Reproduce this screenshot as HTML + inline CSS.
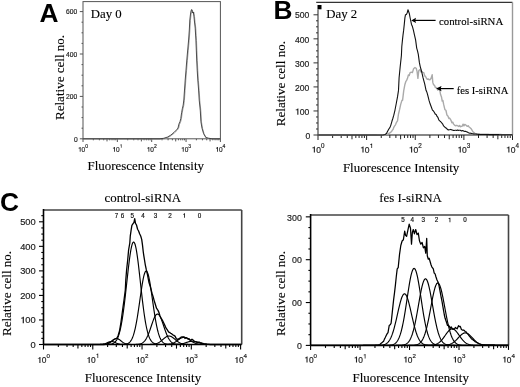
<!DOCTYPE html>
<html><head><meta charset="utf-8"><style>
html,body{margin:0;padding:0;background:#fff;}
body{width:520px;height:387px;overflow:hidden;}
svg{display:block;will-change:transform;}
</style></head><body>
<svg width="520" height="387" viewBox="0 0 520 387">
<rect width="520" height="387" fill="#fff"/>
<rect x="83.0" y="1.6" width="137.4" height="137.20000000000002" fill="none" stroke="#555" stroke-width="1"/>
<line x1="79.80" y1="138.80" x2="83.00" y2="138.80" stroke="#555" stroke-width="1"/>
<text x="73.97" y="141.50" font-family="Liberation Sans" font-size="6.7" fill="#222" stroke="#222" stroke-width="0.18">0</text>
<line x1="79.80" y1="96.40" x2="83.00" y2="96.40" stroke="#555" stroke-width="1"/>
<text x="66.02" y="99.10" font-family="Liberation Sans" font-size="6.7" fill="#222" stroke="#222" stroke-width="0.18">200</text>
<line x1="79.80" y1="54.00" x2="83.00" y2="54.00" stroke="#555" stroke-width="1"/>
<text x="66.02" y="56.70" font-family="Liberation Sans" font-size="6.7" fill="#222" stroke="#222" stroke-width="0.18">400</text>
<line x1="79.80" y1="11.60" x2="83.00" y2="11.60" stroke="#555" stroke-width="1"/>
<text x="66.02" y="14.30" font-family="Liberation Sans" font-size="6.7" fill="#222" stroke="#222" stroke-width="0.18">600</text>
<line x1="81.50" y1="128.20" x2="83.00" y2="128.20" stroke="#555" stroke-width="1"/>
<line x1="81.50" y1="117.60" x2="83.00" y2="117.60" stroke="#555" stroke-width="1"/>
<line x1="81.50" y1="107.00" x2="83.00" y2="107.00" stroke="#555" stroke-width="1"/>
<line x1="81.50" y1="85.80" x2="83.00" y2="85.80" stroke="#555" stroke-width="1"/>
<line x1="81.50" y1="75.20" x2="83.00" y2="75.20" stroke="#555" stroke-width="1"/>
<line x1="81.50" y1="64.60" x2="83.00" y2="64.60" stroke="#555" stroke-width="1"/>
<line x1="81.50" y1="43.40" x2="83.00" y2="43.40" stroke="#555" stroke-width="1"/>
<line x1="81.50" y1="32.80" x2="83.00" y2="32.80" stroke="#555" stroke-width="1"/>
<line x1="81.50" y1="22.20" x2="83.00" y2="22.20" stroke="#555" stroke-width="1"/>
<line x1="83.00" y1="138.80" x2="83.00" y2="142.00" stroke="#555" stroke-width="1"/>
<line x1="93.34" y1="138.80" x2="93.34" y2="140.30" stroke="#555" stroke-width="1"/>
<line x1="99.39" y1="138.80" x2="99.39" y2="140.30" stroke="#555" stroke-width="1"/>
<line x1="103.68" y1="138.80" x2="103.68" y2="140.30" stroke="#555" stroke-width="1"/>
<line x1="107.01" y1="138.80" x2="107.01" y2="141.41" stroke="#555" stroke-width="1"/>
<line x1="109.73" y1="138.80" x2="109.73" y2="140.30" stroke="#555" stroke-width="1"/>
<line x1="112.03" y1="138.80" x2="112.03" y2="140.30" stroke="#555" stroke-width="1"/>
<line x1="114.02" y1="138.80" x2="114.02" y2="140.30" stroke="#555" stroke-width="1"/>
<line x1="115.78" y1="138.80" x2="115.78" y2="140.30" stroke="#555" stroke-width="1"/>
<path d="M79.75,151.70 L80.60,151.70 L80.60,147.05 L79.95,147.05 C79.82,147.61 79.43,147.80 78.58,147.87 L78.58,148.39 L79.75,148.39 Z" fill="#222"/>
<text x="81.61" y="151.70" font-family="Liberation Sans" font-size="6.5" fill="#222" stroke="#222" stroke-width="0.18">0</text>
<text x="85.22" y="147.80" font-family="Liberation Sans" font-size="5" fill="#222" stroke="#222" stroke-width="0.18">0</text>
<line x1="117.35" y1="138.80" x2="117.35" y2="142.00" stroke="#555" stroke-width="1"/>
<line x1="127.69" y1="138.80" x2="127.69" y2="140.30" stroke="#555" stroke-width="1"/>
<line x1="133.74" y1="138.80" x2="133.74" y2="140.30" stroke="#555" stroke-width="1"/>
<line x1="138.03" y1="138.80" x2="138.03" y2="140.30" stroke="#555" stroke-width="1"/>
<line x1="141.36" y1="138.80" x2="141.36" y2="141.41" stroke="#555" stroke-width="1"/>
<line x1="144.08" y1="138.80" x2="144.08" y2="140.30" stroke="#555" stroke-width="1"/>
<line x1="146.38" y1="138.80" x2="146.38" y2="140.30" stroke="#555" stroke-width="1"/>
<line x1="148.37" y1="138.80" x2="148.37" y2="140.30" stroke="#555" stroke-width="1"/>
<line x1="150.13" y1="138.80" x2="150.13" y2="140.30" stroke="#555" stroke-width="1"/>
<path d="M114.10,151.70 L114.95,151.70 L114.95,147.05 L114.30,147.05 C114.17,147.61 113.78,147.80 112.93,147.87 L112.93,148.39 L114.10,148.39 Z" fill="#222"/>
<text x="115.96" y="151.70" font-family="Liberation Sans" font-size="6.5" fill="#222" stroke="#222" stroke-width="0.18">0</text>
<path d="M120.92,147.80 L121.57,147.80 L121.57,144.22 L121.07,144.22 C120.97,144.65 120.67,144.80 120.02,144.85 L120.02,145.25 L120.92,145.25 Z" fill="#222"/>
<line x1="151.70" y1="138.80" x2="151.70" y2="142.00" stroke="#555" stroke-width="1"/>
<line x1="162.04" y1="138.80" x2="162.04" y2="140.30" stroke="#555" stroke-width="1"/>
<line x1="168.09" y1="138.80" x2="168.09" y2="140.30" stroke="#555" stroke-width="1"/>
<line x1="172.38" y1="138.80" x2="172.38" y2="140.30" stroke="#555" stroke-width="1"/>
<line x1="175.71" y1="138.80" x2="175.71" y2="141.41" stroke="#555" stroke-width="1"/>
<line x1="178.43" y1="138.80" x2="178.43" y2="140.30" stroke="#555" stroke-width="1"/>
<line x1="180.73" y1="138.80" x2="180.73" y2="140.30" stroke="#555" stroke-width="1"/>
<line x1="182.72" y1="138.80" x2="182.72" y2="140.30" stroke="#555" stroke-width="1"/>
<line x1="184.48" y1="138.80" x2="184.48" y2="140.30" stroke="#555" stroke-width="1"/>
<path d="M148.45,151.70 L149.30,151.70 L149.30,147.05 L148.65,147.05 C148.52,147.61 148.13,147.80 147.28,147.87 L147.28,148.39 L148.45,148.39 Z" fill="#222"/>
<text x="150.31" y="151.70" font-family="Liberation Sans" font-size="6.5" fill="#222" stroke="#222" stroke-width="0.18">0</text>
<text x="153.92" y="147.80" font-family="Liberation Sans" font-size="5" fill="#222" stroke="#222" stroke-width="0.18">2</text>
<line x1="186.05" y1="138.80" x2="186.05" y2="142.00" stroke="#555" stroke-width="1"/>
<line x1="196.39" y1="138.80" x2="196.39" y2="140.30" stroke="#555" stroke-width="1"/>
<line x1="202.44" y1="138.80" x2="202.44" y2="140.30" stroke="#555" stroke-width="1"/>
<line x1="206.73" y1="138.80" x2="206.73" y2="140.30" stroke="#555" stroke-width="1"/>
<line x1="210.06" y1="138.80" x2="210.06" y2="141.41" stroke="#555" stroke-width="1"/>
<line x1="212.78" y1="138.80" x2="212.78" y2="140.30" stroke="#555" stroke-width="1"/>
<line x1="215.08" y1="138.80" x2="215.08" y2="140.30" stroke="#555" stroke-width="1"/>
<line x1="217.07" y1="138.80" x2="217.07" y2="140.30" stroke="#555" stroke-width="1"/>
<line x1="218.83" y1="138.80" x2="218.83" y2="140.30" stroke="#555" stroke-width="1"/>
<path d="M182.80,151.70 L183.65,151.70 L183.65,147.05 L183.00,147.05 C182.87,147.61 182.48,147.80 181.63,147.87 L181.63,148.39 L182.80,148.39 Z" fill="#222"/>
<text x="184.66" y="151.70" font-family="Liberation Sans" font-size="6.5" fill="#222" stroke="#222" stroke-width="0.18">0</text>
<text x="188.27" y="147.80" font-family="Liberation Sans" font-size="5" fill="#222" stroke="#222" stroke-width="0.18">3</text>
<line x1="220.40" y1="138.80" x2="220.40" y2="142.00" stroke="#555" stroke-width="1"/>
<path d="M217.15,151.70 L218.00,151.70 L218.00,147.05 L217.35,147.05 C217.22,147.61 216.83,147.80 215.98,147.87 L215.98,148.39 L217.15,148.39 Z" fill="#222"/>
<text x="219.01" y="151.70" font-family="Liberation Sans" font-size="6.5" fill="#222" stroke="#222" stroke-width="0.18">0</text>
<text x="222.62" y="147.80" font-family="Liberation Sans" font-size="5" fill="#222" stroke="#222" stroke-width="0.18">4</text>
<text transform="translate(90.80,17.50) scale(1,1.0)" font-family="Liberation Serif" font-size="12.8" text-anchor="start" stroke="#000" stroke-width="0.12" >Day 0</text>
<text transform="translate(87.60,169.50) scale(1,1.0)" font-family="Liberation Serif" font-size="12.9" text-anchor="start" stroke="#000" stroke-width="0.12" >Fluorescence Intensity</text>
<text transform="translate(64,120) rotate(-90) scale(1,1.0)" font-family="Liberation Serif" font-size="13.05" stroke="#000" stroke-width="0.12">Relative cell no.</text>
<text x="39.6" y="21.8" font-family="Liberation Sans" font-weight="bold" font-size="26.3">A</text>
<polyline points="83.00,138.80 160.60,139.20 164.20,138.70 168.00,137.50 171.40,135.50 174.70,132.70 177.10,130.30 178.60,128.40 179.50,124.50 180.70,121.70 181.40,118.80 182.20,113.10 182.90,109.20 183.80,105.40 184.40,100.40 185.10,90.40 185.80,80.40 186.60,70.40 187.40,60.40 188.30,50.40 189.20,40.40 189.90,30.40 190.40,20.40 191.10,14.40 191.60,11.40 192.20,9.90 192.80,11.40 193.30,13.40 193.90,12.40 194.50,16.40 195.10,22.40 195.80,28.40 196.20,35.40 196.50,40.40 196.90,50.40 197.30,60.40 197.80,70.40 198.40,80.40 199.20,90.40 199.80,100.40 200.90,111.30 201.50,122.10 202.60,128.60 204.20,134.10 206.40,137.90 209.10,138.60 212.60,139.20 220.40,138.80" fill="none" stroke="#999" stroke-width="0.9" stroke-linejoin="round"/>
<polyline points="83.00,138.80 160.00,138.80 163.60,138.30 167.40,137.10 170.80,135.10 174.10,132.30 176.50,129.90 178.00,128.00 178.90,124.10 180.10,121.30 180.80,118.40 181.60,112.70 182.30,108.80 183.20,105.00 183.80,100.00 184.50,90.00 185.20,80.00 186.00,70.00 186.80,60.00 187.70,50.00 188.60,40.00 189.30,30.00 189.80,20.00 190.50,14.00 191.00,11.00 191.60,9.50 192.20,11.00 192.70,13.00 193.30,12.00 193.90,16.00 194.50,22.00 195.20,28.00 195.60,35.00 195.90,40.00 196.30,50.00 196.70,60.00 197.20,70.00 197.80,80.00 198.60,90.00 199.20,100.00 200.30,110.90 200.90,121.70 202.00,128.20 203.60,133.70 205.80,137.50 208.50,138.20 212.00,138.80 220.40,138.80" fill="none" stroke="#333" stroke-width="0.85" stroke-linejoin="round"/>
<line x1="316.20" y1="2.30" x2="512.50" y2="2.30" stroke="#333" stroke-width="1.2"/>
<line x1="512.50" y1="2.30" x2="512.50" y2="135.00" stroke="#999" stroke-width="1.4"/>
<line x1="318.00" y1="9.50" x2="318.00" y2="135.00" stroke="#555" stroke-width="1.3"/>
<line x1="318.00" y1="135.00" x2="512.50" y2="135.00" stroke="#111" stroke-width="1.2"/>
<line x1="313.50" y1="135.00" x2="318.00" y2="135.00" stroke="#333" stroke-width="1"/>
<text x="305.62" y="138.68" font-family="Liberation Sans" font-size="8.6" fill="#222" stroke="#222" stroke-width="0.18">0</text>
<line x1="313.50" y1="110.96" x2="318.00" y2="110.96" stroke="#333" stroke-width="1"/>
<path d="M297.28,114.64 L298.40,114.64 L298.40,108.48 L297.54,108.48 C297.36,109.22 296.85,109.48 295.73,109.56 L295.73,110.25 L297.28,110.25 Z" fill="#222"/>
<text x="299.74" y="114.64" font-family="Liberation Sans" font-size="8.6" fill="#222" stroke="#222" stroke-width="0.18">00</text>
<line x1="313.50" y1="86.92" x2="318.00" y2="86.92" stroke="#333" stroke-width="1"/>
<text x="294.96" y="90.60" font-family="Liberation Sans" font-size="8.6" fill="#222" stroke="#222" stroke-width="0.18">200</text>
<line x1="313.50" y1="62.88" x2="318.00" y2="62.88" stroke="#333" stroke-width="1"/>
<text x="294.96" y="66.56" font-family="Liberation Sans" font-size="8.6" fill="#222" stroke="#222" stroke-width="0.18">300</text>
<line x1="313.50" y1="38.84" x2="318.00" y2="38.84" stroke="#333" stroke-width="1"/>
<text x="294.96" y="42.52" font-family="Liberation Sans" font-size="8.6" fill="#222" stroke="#222" stroke-width="0.18">400</text>
<line x1="313.50" y1="14.80" x2="318.00" y2="14.80" stroke="#333" stroke-width="1"/>
<text x="294.96" y="18.48" font-family="Liberation Sans" font-size="8.6" fill="#222" stroke="#222" stroke-width="0.18">500</text>
<line x1="316.00" y1="128.99" x2="318.00" y2="128.99" stroke="#333" stroke-width="1"/>
<line x1="316.00" y1="122.98" x2="318.00" y2="122.98" stroke="#333" stroke-width="1"/>
<line x1="316.00" y1="116.97" x2="318.00" y2="116.97" stroke="#333" stroke-width="1"/>
<line x1="316.00" y1="104.95" x2="318.00" y2="104.95" stroke="#333" stroke-width="1"/>
<line x1="316.00" y1="98.94" x2="318.00" y2="98.94" stroke="#333" stroke-width="1"/>
<line x1="316.00" y1="92.93" x2="318.00" y2="92.93" stroke="#333" stroke-width="1"/>
<line x1="316.00" y1="80.91" x2="318.00" y2="80.91" stroke="#333" stroke-width="1"/>
<line x1="316.00" y1="74.90" x2="318.00" y2="74.90" stroke="#333" stroke-width="1"/>
<line x1="316.00" y1="68.89" x2="318.00" y2="68.89" stroke="#333" stroke-width="1"/>
<line x1="316.00" y1="56.87" x2="318.00" y2="56.87" stroke="#333" stroke-width="1"/>
<line x1="316.00" y1="50.86" x2="318.00" y2="50.86" stroke="#333" stroke-width="1"/>
<line x1="316.00" y1="44.85" x2="318.00" y2="44.85" stroke="#333" stroke-width="1"/>
<line x1="316.00" y1="32.83" x2="318.00" y2="32.83" stroke="#333" stroke-width="1"/>
<line x1="316.00" y1="26.82" x2="318.00" y2="26.82" stroke="#333" stroke-width="1"/>
<line x1="316.00" y1="20.81" x2="318.00" y2="20.81" stroke="#333" stroke-width="1"/>
<line x1="318.00" y1="135.00" x2="318.00" y2="140.00" stroke="#222" stroke-width="1"/>
<line x1="332.64" y1="135.00" x2="332.64" y2="138.00" stroke="#222" stroke-width="1"/>
<line x1="341.20" y1="135.00" x2="341.20" y2="138.00" stroke="#222" stroke-width="1"/>
<line x1="347.28" y1="135.00" x2="347.28" y2="138.00" stroke="#222" stroke-width="1"/>
<line x1="351.99" y1="135.00" x2="351.99" y2="139.30" stroke="#222" stroke-width="1"/>
<line x1="355.84" y1="135.00" x2="355.84" y2="138.00" stroke="#222" stroke-width="1"/>
<line x1="359.09" y1="135.00" x2="359.09" y2="138.00" stroke="#222" stroke-width="1"/>
<line x1="361.91" y1="135.00" x2="361.91" y2="138.00" stroke="#222" stroke-width="1"/>
<line x1="364.40" y1="135.00" x2="364.40" y2="138.00" stroke="#222" stroke-width="1"/>
<path d="M313.82,152.60 L314.92,152.60 L314.92,146.51 L314.07,146.51 C313.90,147.25 313.39,147.50 312.29,147.59 L312.29,148.26 L313.82,148.26 Z" fill="#222"/>
<text x="316.25" y="152.60" font-family="Liberation Sans" font-size="8.5" fill="#222" stroke="#222" stroke-width="0.18">0</text>
<text x="320.97" y="148.10" font-family="Liberation Sans" font-size="6.3" fill="#222" stroke="#222" stroke-width="0.18">0</text>
<line x1="366.62" y1="135.00" x2="366.62" y2="140.00" stroke="#222" stroke-width="1"/>
<line x1="381.26" y1="135.00" x2="381.26" y2="138.00" stroke="#222" stroke-width="1"/>
<line x1="389.83" y1="135.00" x2="389.83" y2="138.00" stroke="#222" stroke-width="1"/>
<line x1="395.90" y1="135.00" x2="395.90" y2="138.00" stroke="#222" stroke-width="1"/>
<line x1="400.61" y1="135.00" x2="400.61" y2="139.30" stroke="#222" stroke-width="1"/>
<line x1="404.46" y1="135.00" x2="404.46" y2="138.00" stroke="#222" stroke-width="1"/>
<line x1="407.72" y1="135.00" x2="407.72" y2="138.00" stroke="#222" stroke-width="1"/>
<line x1="410.54" y1="135.00" x2="410.54" y2="138.00" stroke="#222" stroke-width="1"/>
<line x1="413.03" y1="135.00" x2="413.03" y2="138.00" stroke="#222" stroke-width="1"/>
<path d="M362.44,152.60 L363.55,152.60 L363.55,146.51 L362.70,146.51 C362.53,147.25 362.02,147.50 360.91,147.59 L360.91,148.26 L362.44,148.26 Z" fill="#222"/>
<text x="364.87" y="152.60" font-family="Liberation Sans" font-size="8.5" fill="#222" stroke="#222" stroke-width="0.18">0</text>
<path d="M371.30,148.10 L372.12,148.10 L372.12,143.59 L371.49,143.59 C371.36,144.13 370.99,144.32 370.17,144.38 L370.17,144.89 L371.30,144.89 Z" fill="#222"/>
<line x1="415.25" y1="135.00" x2="415.25" y2="140.00" stroke="#222" stroke-width="1"/>
<line x1="429.89" y1="135.00" x2="429.89" y2="138.00" stroke="#222" stroke-width="1"/>
<line x1="438.45" y1="135.00" x2="438.45" y2="138.00" stroke="#222" stroke-width="1"/>
<line x1="444.53" y1="135.00" x2="444.53" y2="138.00" stroke="#222" stroke-width="1"/>
<line x1="449.24" y1="135.00" x2="449.24" y2="139.30" stroke="#222" stroke-width="1"/>
<line x1="453.09" y1="135.00" x2="453.09" y2="138.00" stroke="#222" stroke-width="1"/>
<line x1="456.34" y1="135.00" x2="456.34" y2="138.00" stroke="#222" stroke-width="1"/>
<line x1="459.16" y1="135.00" x2="459.16" y2="138.00" stroke="#222" stroke-width="1"/>
<line x1="461.65" y1="135.00" x2="461.65" y2="138.00" stroke="#222" stroke-width="1"/>
<path d="M411.07,152.60 L412.17,152.60 L412.17,146.51 L411.32,146.51 C411.15,147.25 410.64,147.50 409.54,147.59 L409.54,148.26 L411.07,148.26 Z" fill="#222"/>
<text x="413.50" y="152.60" font-family="Liberation Sans" font-size="8.5" fill="#222" stroke="#222" stroke-width="0.18">0</text>
<text x="418.22" y="148.10" font-family="Liberation Sans" font-size="6.3" fill="#222" stroke="#222" stroke-width="0.18">2</text>
<line x1="463.88" y1="135.00" x2="463.88" y2="140.00" stroke="#222" stroke-width="1"/>
<line x1="478.51" y1="135.00" x2="478.51" y2="138.00" stroke="#222" stroke-width="1"/>
<line x1="487.08" y1="135.00" x2="487.08" y2="138.00" stroke="#222" stroke-width="1"/>
<line x1="493.15" y1="135.00" x2="493.15" y2="138.00" stroke="#222" stroke-width="1"/>
<line x1="497.86" y1="135.00" x2="497.86" y2="139.30" stroke="#222" stroke-width="1"/>
<line x1="501.71" y1="135.00" x2="501.71" y2="138.00" stroke="#222" stroke-width="1"/>
<line x1="504.97" y1="135.00" x2="504.97" y2="138.00" stroke="#222" stroke-width="1"/>
<line x1="507.79" y1="135.00" x2="507.79" y2="138.00" stroke="#222" stroke-width="1"/>
<line x1="510.28" y1="135.00" x2="510.28" y2="138.00" stroke="#222" stroke-width="1"/>
<path d="M459.69,152.60 L460.80,152.60 L460.80,146.51 L459.95,146.51 C459.78,147.25 459.27,147.50 458.16,147.59 L458.16,148.26 L459.69,148.26 Z" fill="#222"/>
<text x="462.12" y="152.60" font-family="Liberation Sans" font-size="8.5" fill="#222" stroke="#222" stroke-width="0.18">0</text>
<text x="466.85" y="148.10" font-family="Liberation Sans" font-size="6.3" fill="#222" stroke="#222" stroke-width="0.18">3</text>
<line x1="512.50" y1="135.00" x2="512.50" y2="140.00" stroke="#222" stroke-width="1"/>
<path d="M508.32,152.60 L509.42,152.60 L509.42,146.51 L508.57,146.51 C508.40,147.25 507.89,147.50 506.79,147.59 L506.79,148.26 L508.32,148.26 Z" fill="#222"/>
<text x="510.75" y="152.60" font-family="Liberation Sans" font-size="8.5" fill="#222" stroke="#222" stroke-width="0.18">0</text>
<text x="515.47" y="148.10" font-family="Liberation Sans" font-size="6.3" fill="#222" stroke="#222" stroke-width="0.18">4</text>
<rect x="317.5" y="5" width="4" height="4.3" fill="#000"/>
<text transform="translate(326.30,17.80) scale(1,1.0)" font-family="Liberation Serif" font-size="12.8" text-anchor="start" stroke="#000" stroke-width="0.12" >Day 2</text>
<text transform="translate(342.95,172.30) scale(1,1.0)" font-family="Liberation Serif" font-size="12.9" text-anchor="start" stroke="#000" stroke-width="0.12" >Fluorescence Intensity</text>
<text transform="translate(285,126.2) rotate(-90) scale(1,1.0)" font-family="Liberation Serif" font-size="13.05" stroke="#000" stroke-width="0.12">Relative cell no.</text>
<text x="273.6" y="19" font-family="Liberation Sans" font-weight="bold" font-size="26.3">B</text>
<polyline points="318.00,135.00 318.71,135.00 319.41,135.00 320.12,134.99 320.82,134.99 321.53,134.99 322.23,134.99 322.94,134.99 323.64,134.98 324.35,134.98 325.05,134.98 325.76,134.98 326.46,134.97 327.17,134.97 327.87,134.97 328.58,134.97 329.28,134.97 329.99,134.96 330.69,134.96 331.40,134.96 332.11,134.96 332.81,134.96 333.52,134.95 334.22,134.95 334.93,134.95 335.63,134.95 336.34,134.95 337.04,134.94 337.75,134.94 338.45,134.94 339.16,134.94 339.86,134.93 340.57,134.93 341.27,134.93 341.98,134.93 342.68,134.93 343.39,134.92 344.09,134.92 344.80,134.92 345.51,134.92 346.21,134.92 346.92,134.91 347.62,134.91 348.33,134.91 349.03,134.91 349.74,134.91 350.44,134.90 351.15,134.90 351.85,134.90 352.56,134.90 353.26,134.89 353.97,134.89 354.67,134.89 355.38,134.89 356.08,134.89 356.79,134.88 357.49,134.88 358.20,134.88 358.91,134.88 359.61,134.88 360.32,134.87 361.02,134.87 361.73,134.87 362.43,134.87 363.14,134.87 363.84,134.86 364.55,134.86 365.25,134.86 365.96,134.86 366.66,134.85 367.37,134.85 368.07,134.85 368.78,134.85 369.48,134.85 370.19,134.84 370.89,134.84 371.60,134.84 372.31,134.84 373.01,134.84 373.72,134.83 374.42,134.83 375.13,134.83 375.83,134.83 376.54,134.83 377.24,134.82 377.95,134.82 378.65,134.82 379.36,134.82 380.06,134.81 380.77,134.81 381.47,134.81 382.18,134.81 382.88,134.81 383.59,134.80 384.29,134.80 385.00,134.80 385.75,134.60 386.50,134.40 387.25,134.20 388.00,134.00 388.90,133.43 389.80,132.88 390.70,132.30 391.48,131.51 392.25,130.31 393.02,129.60 393.80,127.28 394.65,125.94 395.50,124.85 396.50,122.31 397.50,120.90 398.50,113.99 399.50,109.92 400.70,104.34 402.00,100.11 402.60,100.19 403.70,90.93 404.90,84.46 405.75,81.73 406.60,80.48 407.50,78.34 408.40,75.01 409.25,75.52 410.10,72.66 411.30,72.21 412.40,72.63 413.60,68.80 415.00,67.57 416.20,68.24 417.10,71.66 417.90,78.35 418.80,70.47 420.00,69.55 420.75,71.90 421.50,71.40 422.90,72.36 423.80,72.58 424.70,75.95 425.55,76.45 426.40,78.31 427.25,79.27 428.10,78.88 429.00,79.64 429.90,79.73 431.00,78.48 432.20,74.77 432.80,82.38 433.65,84.92 434.50,85.11 435.30,87.63 436.10,87.51 436.90,88.21 437.62,89.98 438.35,89.55 439.07,89.57 439.80,90.45 440.65,94.83 441.50,96.95 442.20,101.14 442.90,100.46 443.60,104.15 444.90,109.70 445.90,110.25 446.90,114.95 447.90,115.91 448.90,118.49 449.60,118.07 450.30,119.08 451.00,120.31 451.87,122.83 452.73,122.12 453.60,124.10 454.50,125.12 455.40,125.81 456.30,125.42 457.12,125.56 457.94,125.98 458.76,126.54 459.58,125.50 460.40,126.73 461.30,126.39 462.20,126.08 463.10,124.15 463.93,125.89 464.75,124.40 465.57,124.94 466.40,125.50 467.30,126.38 468.20,125.69 469.10,127.03 470.10,127.72 471.10,128.73 472.15,130.48 473.20,132.10 474.20,132.71 475.20,133.70 476.10,133.83 477.00,133.97 477.90,134.10 478.61,134.11 479.31,134.13 480.02,134.14 480.72,134.16 481.43,134.17 482.14,134.19 482.84,134.20 483.55,134.21 484.26,134.23 484.96,134.24 485.67,134.26 486.37,134.27 487.08,134.29 487.79,134.30 488.49,134.31 489.20,134.33 489.90,134.34 490.61,134.36 491.32,134.37 492.02,134.39 492.73,134.40 493.43,134.41 494.14,134.43 494.85,134.44 495.55,134.46 496.26,134.47 496.97,134.49 497.67,134.50 498.38,134.51 499.08,134.53 499.79,134.54 500.50,134.56 501.20,134.57 501.91,134.59 502.61,134.60 503.32,134.61 504.03,134.63 504.73,134.64 505.44,134.66 506.14,134.67 506.85,134.69 507.56,134.70 508.26,134.71 508.97,134.73 509.68,134.74 510.38,134.76 511.09,134.77 511.79,134.79 512.50,134.80" fill="none" stroke="#aaa" stroke-width="1.4" stroke-linejoin="round"/>
<polyline points="318.00,135.00 318.80,135.00 319.60,135.00 320.41,135.00 321.21,135.00 322.01,135.00 322.81,135.00 323.62,135.00 324.42,135.00 325.22,135.00 326.02,135.00 326.83,135.00 327.63,135.00 328.43,135.00 329.23,135.00 330.04,135.00 330.84,135.00 331.64,135.00 332.44,135.00 333.25,135.00 334.05,135.00 334.85,135.00 335.65,135.00 336.46,135.00 337.26,135.00 338.06,135.00 338.86,135.00 339.67,135.00 340.47,135.00 341.27,135.00 342.07,135.00 342.88,135.00 343.68,135.00 344.48,135.00 345.28,135.00 346.09,135.00 346.89,135.00 347.69,135.00 348.49,135.00 349.30,135.00 350.10,135.00 350.90,135.00 351.70,135.00 352.51,135.00 353.31,135.00 354.11,135.00 354.91,135.00 355.72,135.00 356.52,135.00 357.32,135.00 358.12,135.00 358.93,135.00 359.73,135.00 360.53,135.00 361.33,135.00 362.14,135.00 362.94,135.00 363.74,135.00 364.54,135.00 365.35,135.00 366.15,135.00 366.95,135.00 367.75,135.00 368.56,135.00 369.36,135.00 370.16,135.00 370.96,135.00 371.77,135.00 372.57,135.00 373.37,135.00 374.17,135.00 374.98,135.00 375.78,135.00 376.58,135.00 377.38,135.00 378.19,135.00 378.99,135.00 379.79,135.00 380.59,135.00 381.40,135.00 382.20,135.00 383.00,135.00 384.00,134.75 385.00,134.50 386.50,133.50 387.60,131.19 389.00,128.73 389.85,127.63 390.70,125.60 392.00,121.04 392.90,118.23 393.80,115.19 395.00,110.01 396.40,102.75 397.50,96.91 398.50,90.40 399.10,77.73 400.20,66.49 401.40,55.46 401.80,46.47 402.50,39.61 403.00,35.18 403.60,30.63 404.30,24.11 404.90,17.86 405.50,14.67 406.50,14.37 407.30,12.50 408.00,9.71 408.60,11.50 409.30,13.46 410.10,17.73 411.50,24.44 412.45,26.55 413.40,30.11 414.50,35.19 415.60,39.82 416.70,48.07 417.50,50.89 418.30,54.38 419.40,62.69 420.30,66.85 421.20,70.00 422.05,73.34 422.90,77.22 423.80,80.53 424.70,83.82 425.80,89.11 426.00,90.28 426.80,91.89 427.60,94.60 428.10,96.74 429.10,100.63 430.10,103.82 431.40,107.20 432.45,110.17 433.50,110.97 434.40,112.52 435.30,114.13 436.20,114.41 437.07,116.45 437.93,117.44 438.80,119.81 439.70,120.82 440.60,121.48 441.50,122.72 442.55,123.81 443.60,125.89 444.60,126.79 445.60,127.77 446.50,128.33 447.40,129.29 448.30,130.02 449.12,129.68 449.95,129.82 450.78,129.38 451.60,129.85 452.45,129.98 453.30,130.39 454.15,130.45 455.00,130.26 455.80,130.32 456.60,130.51 457.40,130.08 458.20,130.37 459.00,130.18 459.82,130.27 460.64,130.35 461.46,130.93 462.28,130.64 463.10,130.84 463.93,131.11 464.75,131.57 465.57,131.28 466.40,131.67 467.25,132.08 468.10,132.59 468.95,132.90 469.80,133.26 470.60,133.17 471.40,133.39 472.20,133.58 473.00,133.74 473.80,133.90 474.69,133.99 475.57,134.07 476.46,134.16 477.34,134.24 478.23,134.33 479.11,134.41 480.00,134.50 480.81,134.51 481.62,134.51 482.44,134.52 483.25,134.53 484.06,134.54 484.88,134.55 485.69,134.55 486.50,134.56 487.31,134.57 488.12,134.57 488.94,134.58 489.75,134.59 490.56,134.60 491.38,134.61 492.19,134.61 493.00,134.62 493.81,134.63 494.62,134.63 495.44,134.64 496.25,134.65 497.06,134.66 497.88,134.67 498.69,134.67 499.50,134.68 500.31,134.69 501.12,134.69 501.94,134.70 502.75,134.71 503.56,134.72 504.38,134.73 505.19,134.73 506.00,134.74 506.81,134.75 507.62,134.75 508.44,134.76 509.25,134.77 510.06,134.78 510.88,134.79 511.69,134.79 512.50,134.80" fill="none" stroke="#111" stroke-width="1.1" stroke-linejoin="round"/>
<line x1="413.20" y1="20.40" x2="435.60" y2="20.40" stroke="#000" stroke-width="1.2"/>
<path d="M411.2,20.4 L416,17.799999999999997 L415.28,20.4 L416,23.0 Z" fill="#000"/>
<line x1="438.10" y1="88.60" x2="453.70" y2="88.60" stroke="#000" stroke-width="1.2"/>
<path d="M436.1,88.6 L441.5,85.89999999999999 L440.69,88.6 L441.5,91.3 Z" fill="#000"/>
<text transform="translate(439.00,24.60) scale(1,1.0)" font-family="Liberation Serif" font-size="10.8" text-anchor="start" stroke="#000" stroke-width="0.12" >control-siRNA</text>
<text transform="translate(456.80,93.50) scale(1,1.0)" font-family="Liberation Serif" font-size="10.6" text-anchor="start" stroke="#000" stroke-width="0.12" >fes I-siRNA</text>
<line x1="43.50" y1="210.00" x2="241.70" y2="210.00" stroke="#444" stroke-width="1.5"/>
<line x1="241.70" y1="210.00" x2="241.70" y2="344.50" stroke="#444" stroke-width="1.6"/>
<line x1="43.50" y1="209.00" x2="43.50" y2="344.50" stroke="#000" stroke-width="1.6"/>
<line x1="43.50" y1="344.50" x2="241.70" y2="344.50" stroke="#000" stroke-width="1.6"/>
<line x1="39.00" y1="344.50" x2="43.50" y2="344.50" stroke="#000" stroke-width="1.1"/>
<text x="30.53" y="347.83" font-family="Liberation Sans" font-size="9.3" fill="#222" stroke="#222" stroke-width="0.18">0</text>
<line x1="39.00" y1="319.96" x2="43.50" y2="319.96" stroke="#000" stroke-width="1.1"/>
<path d="M22.70,323.29 L23.91,323.29 L23.91,316.63 L22.98,316.63 C22.79,317.43 22.23,317.71 21.02,317.80 L21.02,318.55 L22.70,318.55 Z" fill="#222"/>
<text x="25.36" y="323.29" font-family="Liberation Sans" font-size="9.3" fill="#222" stroke="#222" stroke-width="0.18">00</text>
<line x1="39.00" y1="295.42" x2="43.50" y2="295.42" stroke="#000" stroke-width="1.1"/>
<text x="20.19" y="298.75" font-family="Liberation Sans" font-size="9.3" fill="#222" stroke="#222" stroke-width="0.18">200</text>
<line x1="39.00" y1="270.88" x2="43.50" y2="270.88" stroke="#000" stroke-width="1.1"/>
<text x="20.19" y="274.21" font-family="Liberation Sans" font-size="9.3" fill="#222" stroke="#222" stroke-width="0.18">300</text>
<line x1="39.00" y1="246.34" x2="43.50" y2="246.34" stroke="#000" stroke-width="1.1"/>
<text x="20.19" y="249.67" font-family="Liberation Sans" font-size="9.3" fill="#222" stroke="#222" stroke-width="0.18">400</text>
<line x1="39.00" y1="221.80" x2="43.50" y2="221.80" stroke="#000" stroke-width="1.1"/>
<text x="20.19" y="225.13" font-family="Liberation Sans" font-size="9.3" fill="#222" stroke="#222" stroke-width="0.18">500</text>
<line x1="41.30" y1="338.37" x2="43.50" y2="338.37" stroke="#000" stroke-width="1.1"/>
<line x1="41.30" y1="332.23" x2="43.50" y2="332.23" stroke="#000" stroke-width="1.1"/>
<line x1="41.30" y1="326.10" x2="43.50" y2="326.10" stroke="#000" stroke-width="1.1"/>
<line x1="41.30" y1="313.82" x2="43.50" y2="313.82" stroke="#000" stroke-width="1.1"/>
<line x1="41.30" y1="307.69" x2="43.50" y2="307.69" stroke="#000" stroke-width="1.1"/>
<line x1="41.30" y1="301.56" x2="43.50" y2="301.56" stroke="#000" stroke-width="1.1"/>
<line x1="41.30" y1="289.28" x2="43.50" y2="289.28" stroke="#000" stroke-width="1.1"/>
<line x1="41.30" y1="283.15" x2="43.50" y2="283.15" stroke="#000" stroke-width="1.1"/>
<line x1="41.30" y1="277.01" x2="43.50" y2="277.01" stroke="#000" stroke-width="1.1"/>
<line x1="41.30" y1="264.75" x2="43.50" y2="264.75" stroke="#000" stroke-width="1.1"/>
<line x1="41.30" y1="258.61" x2="43.50" y2="258.61" stroke="#000" stroke-width="1.1"/>
<line x1="41.30" y1="252.47" x2="43.50" y2="252.47" stroke="#000" stroke-width="1.1"/>
<line x1="41.30" y1="240.20" x2="43.50" y2="240.20" stroke="#000" stroke-width="1.1"/>
<line x1="41.30" y1="234.07" x2="43.50" y2="234.07" stroke="#000" stroke-width="1.1"/>
<line x1="41.30" y1="227.94" x2="43.50" y2="227.94" stroke="#000" stroke-width="1.1"/>
<line x1="41.30" y1="215.66" x2="43.50" y2="215.66" stroke="#000" stroke-width="1.1"/>
<line x1="43.50" y1="344.50" x2="43.50" y2="349.50" stroke="#000" stroke-width="1.1"/>
<line x1="58.33" y1="344.50" x2="58.33" y2="347.00" stroke="#000" stroke-width="1.1"/>
<line x1="67.01" y1="344.50" x2="67.01" y2="347.00" stroke="#000" stroke-width="1.1"/>
<line x1="73.17" y1="344.50" x2="73.17" y2="347.00" stroke="#000" stroke-width="1.1"/>
<line x1="77.94" y1="344.50" x2="77.94" y2="348.62" stroke="#000" stroke-width="1.1"/>
<line x1="81.84" y1="344.50" x2="81.84" y2="347.00" stroke="#000" stroke-width="1.1"/>
<line x1="85.14" y1="344.50" x2="85.14" y2="347.00" stroke="#000" stroke-width="1.1"/>
<line x1="88.00" y1="344.50" x2="88.00" y2="347.00" stroke="#000" stroke-width="1.1"/>
<line x1="90.52" y1="344.50" x2="90.52" y2="347.00" stroke="#000" stroke-width="1.1"/>
<path d="M39.37,362.90 L40.47,362.90 L40.47,356.89 L39.63,356.89 C39.46,357.61 38.95,357.86 37.86,357.94 L37.86,358.62 L39.37,358.62 Z" fill="#222"/>
<text x="41.78" y="362.90" font-family="Liberation Sans" font-size="8.4" fill="#222" stroke="#222" stroke-width="0.18">0</text>
<text x="46.45" y="358.00" font-family="Liberation Sans" font-size="6.2" fill="#222" stroke="#222" stroke-width="0.18">0</text>
<line x1="92.78" y1="344.50" x2="92.78" y2="349.50" stroke="#000" stroke-width="1.1"/>
<line x1="107.61" y1="344.50" x2="107.61" y2="347.00" stroke="#000" stroke-width="1.1"/>
<line x1="116.29" y1="344.50" x2="116.29" y2="347.00" stroke="#000" stroke-width="1.1"/>
<line x1="122.44" y1="344.50" x2="122.44" y2="347.00" stroke="#000" stroke-width="1.1"/>
<line x1="127.22" y1="344.50" x2="127.22" y2="348.62" stroke="#000" stroke-width="1.1"/>
<line x1="131.12" y1="344.50" x2="131.12" y2="347.00" stroke="#000" stroke-width="1.1"/>
<line x1="134.42" y1="344.50" x2="134.42" y2="347.00" stroke="#000" stroke-width="1.1"/>
<line x1="137.27" y1="344.50" x2="137.27" y2="347.00" stroke="#000" stroke-width="1.1"/>
<line x1="139.80" y1="344.50" x2="139.80" y2="347.00" stroke="#000" stroke-width="1.1"/>
<path d="M88.65,362.90 L89.74,362.90 L89.74,356.89 L88.90,356.89 C88.73,357.61 88.23,357.86 87.14,357.94 L87.14,358.62 L88.65,358.62 Z" fill="#222"/>
<text x="91.05" y="362.90" font-family="Liberation Sans" font-size="8.4" fill="#222" stroke="#222" stroke-width="0.18">0</text>
<path d="M97.40,358.00 L98.20,358.00 L98.20,353.56 L97.58,353.56 C97.46,354.09 97.09,354.28 96.28,354.34 L96.28,354.84 L97.40,354.84 Z" fill="#222"/>
<line x1="142.05" y1="344.50" x2="142.05" y2="349.50" stroke="#000" stroke-width="1.1"/>
<line x1="156.88" y1="344.50" x2="156.88" y2="347.00" stroke="#000" stroke-width="1.1"/>
<line x1="165.56" y1="344.50" x2="165.56" y2="347.00" stroke="#000" stroke-width="1.1"/>
<line x1="171.72" y1="344.50" x2="171.72" y2="347.00" stroke="#000" stroke-width="1.1"/>
<line x1="176.49" y1="344.50" x2="176.49" y2="348.62" stroke="#000" stroke-width="1.1"/>
<line x1="180.39" y1="344.50" x2="180.39" y2="347.00" stroke="#000" stroke-width="1.1"/>
<line x1="183.69" y1="344.50" x2="183.69" y2="347.00" stroke="#000" stroke-width="1.1"/>
<line x1="186.55" y1="344.50" x2="186.55" y2="347.00" stroke="#000" stroke-width="1.1"/>
<line x1="189.07" y1="344.50" x2="189.07" y2="347.00" stroke="#000" stroke-width="1.1"/>
<path d="M137.92,362.90 L139.02,362.90 L139.02,356.89 L138.18,356.89 C138.01,357.61 137.50,357.86 136.41,357.94 L136.41,358.62 L137.92,358.62 Z" fill="#222"/>
<text x="140.33" y="362.90" font-family="Liberation Sans" font-size="8.4" fill="#222" stroke="#222" stroke-width="0.18">0</text>
<text x="145.00" y="358.00" font-family="Liberation Sans" font-size="6.2" fill="#222" stroke="#222" stroke-width="0.18">2</text>
<line x1="191.32" y1="344.50" x2="191.32" y2="349.50" stroke="#000" stroke-width="1.1"/>
<line x1="206.16" y1="344.50" x2="206.16" y2="347.00" stroke="#000" stroke-width="1.1"/>
<line x1="214.84" y1="344.50" x2="214.84" y2="347.00" stroke="#000" stroke-width="1.1"/>
<line x1="220.99" y1="344.50" x2="220.99" y2="347.00" stroke="#000" stroke-width="1.1"/>
<line x1="225.77" y1="344.50" x2="225.77" y2="348.62" stroke="#000" stroke-width="1.1"/>
<line x1="229.67" y1="344.50" x2="229.67" y2="347.00" stroke="#000" stroke-width="1.1"/>
<line x1="232.97" y1="344.50" x2="232.97" y2="347.00" stroke="#000" stroke-width="1.1"/>
<line x1="235.82" y1="344.50" x2="235.82" y2="347.00" stroke="#000" stroke-width="1.1"/>
<line x1="238.35" y1="344.50" x2="238.35" y2="347.00" stroke="#000" stroke-width="1.1"/>
<path d="M187.20,362.90 L188.29,362.90 L188.29,356.89 L187.45,356.89 C187.28,357.61 186.78,357.86 185.69,357.94 L185.69,358.62 L187.20,358.62 Z" fill="#222"/>
<text x="189.60" y="362.90" font-family="Liberation Sans" font-size="8.4" fill="#222" stroke="#222" stroke-width="0.18">0</text>
<text x="194.27" y="358.00" font-family="Liberation Sans" font-size="6.2" fill="#222" stroke="#222" stroke-width="0.18">3</text>
<line x1="240.60" y1="344.50" x2="240.60" y2="349.50" stroke="#000" stroke-width="1.1"/>
<path d="M236.47,362.90 L237.57,362.90 L237.57,356.89 L236.73,356.89 C236.56,357.61 236.05,357.86 234.96,357.94 L234.96,358.62 L236.47,358.62 Z" fill="#222"/>
<text x="238.88" y="362.90" font-family="Liberation Sans" font-size="8.4" fill="#222" stroke="#222" stroke-width="0.18">0</text>
<text x="243.55" y="358.00" font-family="Liberation Sans" font-size="6.2" fill="#222" stroke="#222" stroke-width="0.18">4</text>
<text transform="translate(104.50,201.80) scale(1,1.0)" font-family="Liberation Serif" font-size="12.9" text-anchor="start" stroke="#000" stroke-width="0.12" >control-siRNA</text>
<text transform="translate(84.80,382.30) scale(1,1.0)" font-family="Liberation Serif" font-size="12.9" text-anchor="start" stroke="#000" stroke-width="0.12" >Fluorescence Intensity</text>
<text transform="translate(10.7,336) rotate(-90) scale(1,1.0)" font-family="Liberation Serif" font-size="13.05" stroke="#000" stroke-width="0.12">Relative cell no.</text>
<text x="-0.1" y="210.8" font-family="Liberation Sans" font-weight="bold" font-size="26.3">C</text>
<text x="114.75" y="217.80" font-family="Liberation Sans" font-size="6.3" fill="#111" stroke="#111" stroke-width="0.18">7</text>
<text x="120.85" y="217.80" font-family="Liberation Sans" font-size="6.3" fill="#111" stroke="#111" stroke-width="0.18">6</text>
<text x="130.55" y="217.80" font-family="Liberation Sans" font-size="6.3" fill="#111" stroke="#111" stroke-width="0.18">5</text>
<text x="141.25" y="217.80" font-family="Liberation Sans" font-size="6.3" fill="#111" stroke="#111" stroke-width="0.18">4</text>
<text x="153.75" y="217.80" font-family="Liberation Sans" font-size="6.3" fill="#111" stroke="#111" stroke-width="0.18">3</text>
<text x="168.25" y="217.80" font-family="Liberation Sans" font-size="6.3" fill="#111" stroke="#111" stroke-width="0.18">2</text>
<path d="M184.15,217.80 L184.97,217.80 L184.97,213.29 L184.34,213.29 C184.21,213.83 183.83,214.02 183.02,214.08 L183.02,214.59 L184.15,214.59 Z" fill="#111"/>
<text x="197.75" y="217.80" font-family="Liberation Sans" font-size="6.3" fill="#111" stroke="#111" stroke-width="0.18">0</text>
<polyline points="94.70,344.50 95.20,344.50 95.70,344.50 96.20,344.50 96.70,344.50 97.20,344.49 97.70,344.49 98.20,344.49 98.70,344.48 99.20,344.47 99.70,344.46 100.20,344.44 100.70,344.42 101.20,344.39 101.70,344.35 102.20,344.30 102.70,344.23 103.20,344.15 103.70,344.05 104.20,343.93 104.70,343.79 105.20,343.63 105.70,343.45 106.20,343.25 106.70,343.04 107.20,342.82 107.70,342.59 108.20,342.37 108.70,342.15 109.20,341.96 109.70,341.79 110.20,341.65 110.70,341.56 111.20,341.51 111.70,341.50 112.20,341.55 112.70,341.63 113.20,341.76 113.70,341.92 114.20,342.11 114.70,342.32 115.20,342.54 115.70,342.77 116.20,343.00 116.70,343.21 117.20,343.41 117.70,343.60 118.20,343.76 118.70,343.91 119.20,344.03 119.70,344.13 120.20,344.22 120.70,344.29 121.20,344.34 121.70,344.38 122.20,344.42 122.70,344.44 123.20,344.46 123.70,344.47 124.20,344.48 124.70,344.49 125.20,344.49 125.70,344.49 126.20,344.50 126.70,344.50 127.20,344.50 127.70,344.50 128.20,344.50" fill="none" stroke="#000" stroke-width="1.15" stroke-linejoin="round"/>
<polyline points="97.60,344.50 98.10,344.50 98.60,344.50 99.10,344.50 99.60,344.49 100.10,344.49 100.60,344.49 101.10,344.48 101.60,344.48 102.10,344.46 102.60,344.45 103.10,344.43 103.60,344.40 104.10,344.37 104.60,344.32 105.10,344.26 105.60,344.18 106.10,344.08 106.60,343.97 107.10,343.82 107.60,343.65 108.10,343.45 108.60,343.21 109.10,342.95 109.60,342.65 110.10,342.32 110.60,341.96 111.10,341.58 111.60,341.18 112.10,340.78 112.60,340.38 113.10,339.99 113.60,339.63 114.10,339.30 114.60,339.01 115.10,338.78 115.60,338.62 116.10,338.52 116.60,338.50 117.10,338.55 117.60,338.68 118.10,338.87 118.60,339.12 119.10,339.42 119.60,339.77 120.10,340.14 120.60,340.54 121.10,340.94 121.60,341.34 122.10,341.73 122.60,342.11 123.10,342.45 123.60,342.77 124.10,343.06 124.60,343.31 125.10,343.53 125.60,343.72 126.10,343.88 126.60,344.02 127.10,344.13 127.60,344.21 128.10,344.28 128.60,344.34 129.10,344.38 129.60,344.41 130.10,344.44 130.60,344.46 131.10,344.47 131.60,344.48 132.10,344.49 132.60,344.49 133.10,344.49 133.60,344.50 134.10,344.50 134.60,344.50 135.10,344.50" fill="none" stroke="#000" stroke-width="1.15" stroke-linejoin="round"/>
<polyline points="105.04,344.48 105.54,344.48 106.04,344.47 106.54,344.46 107.04,344.45 107.54,344.43 108.04,344.41 108.54,344.38 109.04,344.35 109.54,344.30 110.04,344.25 110.54,344.17 111.04,344.08 111.54,343.97 112.04,343.83 112.54,343.65 113.04,343.44 113.54,343.18 114.04,342.86 114.54,342.48 115.04,342.03 115.54,341.49 116.04,340.85 116.54,340.09 117.04,339.22 117.54,338.20 118.04,337.02 118.54,335.68 119.04,334.14 119.54,332.41 120.04,330.46 120.54,328.29 121.04,325.88 121.54,323.23 122.04,320.34 122.54,317.19 123.04,313.81 123.54,310.19 124.04,306.35 124.54,302.31 125.04,298.09 125.54,293.73 126.04,289.25 126.54,284.71 127.04,280.14 127.54,275.59 128.04,271.12 128.54,266.79 129.04,262.64 129.54,258.73 130.04,255.13 130.54,251.87 131.04,249.01 131.54,246.60 132.04,244.66 132.54,243.24 133.04,242.35 133.54,242.00 134.04,242.21 134.54,242.97 135.04,244.27 135.54,246.09 136.04,248.39 136.54,251.15 137.04,254.31 137.54,257.84 138.04,261.68 138.54,265.77 139.04,270.07 139.54,274.51 140.04,279.04 140.54,283.61 141.04,288.16 141.54,292.66 142.04,297.05 142.54,301.31 143.04,305.39 143.54,309.28 144.04,312.96 144.54,316.40 145.04,319.60 145.54,322.56 146.04,325.27 146.54,327.74 147.04,329.96 147.54,331.96 148.04,333.75 148.54,335.33 149.04,336.72 149.54,337.93 150.04,338.99 150.54,339.90 151.04,340.68 151.54,341.34 152.04,341.91 152.54,342.38 153.04,342.78 153.54,343.11 154.04,343.38 154.54,343.61 155.04,343.79 155.54,343.94 156.04,344.06 156.54,344.15 157.04,344.23 157.54,344.29 158.04,344.34 158.54,344.38 159.04,344.41 159.54,344.43 160.04,344.45 160.54,344.46 161.04,344.47 161.54,344.48 162.04,344.48" fill="none" stroke="#000" stroke-width="1.15" stroke-linejoin="round"/>
<polyline points="119.74,344.49 120.24,344.48 120.74,344.48 121.24,344.47 121.74,344.46 122.24,344.45 122.74,344.43 123.24,344.40 123.74,344.37 124.24,344.33 124.74,344.28 125.24,344.21 125.74,344.12 126.24,344.01 126.74,343.88 127.24,343.71 127.74,343.50 128.24,343.24 128.74,342.92 129.24,342.54 129.74,342.08 130.24,341.53 130.74,340.88 131.24,340.12 131.74,339.22 132.24,338.19 132.74,337.00 133.24,335.64 133.74,334.10 134.24,332.37 134.74,330.45 135.24,328.32 135.74,325.98 136.24,323.44 136.74,320.69 137.24,317.77 137.74,314.67 138.24,311.42 138.74,308.04 139.24,304.57 139.74,301.05 140.24,297.52 140.74,294.01 141.24,290.59 141.74,287.29 142.24,284.18 142.74,281.29 143.24,278.68 143.74,276.40 144.24,274.47 144.74,272.95 145.24,271.85 145.74,271.20 146.24,271.00 146.74,271.27 147.24,271.99 147.74,273.16 148.24,274.75 148.74,276.74 149.24,279.08 149.74,281.73 150.24,284.66 150.74,287.81 151.24,291.13 151.74,294.57 152.24,298.08 152.74,301.62 153.24,305.13 153.74,308.59 154.24,311.94 154.74,315.17 155.24,318.25 155.74,321.15 156.24,323.86 156.74,326.37 157.24,328.67 157.74,330.77 158.24,332.66 158.74,334.36 159.24,335.87 159.74,337.20 160.24,338.36 160.74,339.38 161.24,340.25 161.74,340.99 162.24,341.62 162.74,342.16 163.24,342.60 163.74,342.98 164.24,343.28 164.74,343.53 165.24,343.74 165.74,343.90 166.24,344.03 166.74,344.14 167.24,344.22 167.74,344.29 168.24,344.34 168.74,344.38 169.24,344.41 169.74,344.43 170.24,344.45 170.74,344.46 171.24,344.47 171.74,344.48 172.24,344.49" fill="none" stroke="#000" stroke-width="1.15" stroke-linejoin="round"/>
<polyline points="131.46,344.50 131.96,344.49 132.46,344.49 132.96,344.49 133.46,344.48 133.96,344.48 134.46,344.47 134.96,344.46 135.46,344.45 135.96,344.43 136.46,344.40 136.96,344.37 137.46,344.34 137.96,344.29 138.46,344.23 138.96,344.15 139.46,344.06 139.96,343.94 140.46,343.80 140.96,343.63 141.46,343.43 141.96,343.18 142.46,342.89 142.96,342.55 143.46,342.15 143.96,341.69 144.46,341.16 144.96,340.56 145.46,339.87 145.96,339.10 146.46,338.25 146.96,337.31 147.46,336.28 147.96,335.16 148.46,333.96 148.96,332.69 149.46,331.34 149.96,329.94 150.46,328.49 150.96,327.01 151.46,325.52 151.96,324.04 152.46,322.58 152.96,321.17 153.46,319.83 153.96,318.59 154.46,317.45 154.96,316.46 155.46,315.61 155.96,314.93 156.46,314.43 156.96,314.12 157.46,314.00 157.96,314.08 158.46,314.36 158.96,314.83 159.46,315.49 159.96,316.31 160.46,317.29 160.96,318.40 161.46,319.63 161.96,320.95 162.46,322.35 162.96,323.80 163.46,325.29 163.96,326.78 164.46,328.26 164.96,329.71 165.46,331.12 165.96,332.48 166.46,333.77 166.96,334.98 167.46,336.11 167.96,337.15 168.46,338.11 168.96,338.97 169.46,339.75 169.96,340.45 170.46,341.07 170.96,341.61 171.46,342.08 171.96,342.49 172.46,342.84 172.96,343.14 173.46,343.39 173.96,343.60 174.46,343.78 174.96,343.92 175.46,344.04 175.96,344.14 176.46,344.22 176.96,344.28 177.46,344.33 177.96,344.37 178.46,344.40 178.96,344.42 179.46,344.44 179.96,344.46 180.46,344.47 180.96,344.48 181.46,344.48 181.96,344.49 182.46,344.49 182.96,344.49 183.46,344.50" fill="none" stroke="#000" stroke-width="1.15" stroke-linejoin="round"/>
<polyline points="143.80,344.50 144.30,344.50 144.80,344.50 145.30,344.50 145.80,344.50 146.30,344.49 146.80,344.49 147.30,344.49 147.80,344.48 148.30,344.48 148.80,344.47 149.30,344.46 149.80,344.45 150.30,344.43 150.80,344.41 151.30,344.39 151.80,344.36 152.30,344.32 152.80,344.28 153.30,344.22 153.80,344.16 154.30,344.08 154.80,343.98 155.30,343.87 155.80,343.74 156.30,343.60 156.80,343.42 157.30,343.23 157.80,343.01 158.30,342.77 158.80,342.50 159.30,342.20 159.80,341.88 160.30,341.53 160.80,341.16 161.30,340.77 161.80,340.36 162.30,339.94 162.80,339.52 163.30,339.09 163.80,338.66 164.30,338.25 164.80,337.85 165.30,337.47 165.80,337.13 166.30,336.82 166.80,336.55 167.30,336.33 167.80,336.17 168.30,336.06 168.80,336.00 169.30,336.01 169.80,336.08 170.30,336.20 170.80,336.37 171.30,336.60 171.80,336.88 172.30,337.19 172.80,337.54 173.30,337.93 173.80,338.33 174.30,338.75 174.80,339.17 175.30,339.60 175.80,340.03 176.30,340.45 176.80,340.85 177.30,341.23 177.80,341.60 178.30,341.94 178.80,342.26 179.30,342.55 179.80,342.82 180.30,343.06 180.80,343.27 181.30,343.46 181.80,343.63 182.30,343.77 182.80,343.90 183.30,344.00 183.80,344.09 184.30,344.17 184.80,344.23 185.30,344.29 185.80,344.33 186.30,344.37 186.80,344.40 187.30,344.42 187.80,344.44 188.30,344.45 188.80,344.46 189.30,344.47 189.80,344.48 190.30,344.48 190.80,344.49 191.30,344.49 191.80,344.49 192.30,344.50 192.80,344.50 193.30,344.50 193.80,344.50" fill="none" stroke="#000" stroke-width="1.15" stroke-linejoin="round"/>
<polyline points="158.80,344.50 159.30,344.50 159.80,344.50 160.30,344.50 160.80,344.50 161.30,344.49 161.80,344.49 162.30,344.49 162.80,344.49 163.30,344.48 163.80,344.48 164.30,344.47 164.80,344.46 165.30,344.44 165.80,344.43 166.30,344.41 166.80,344.38 167.30,344.35 167.80,344.31 168.30,344.27 168.80,344.21 169.30,344.14 169.80,344.06 170.30,343.97 170.80,343.86 171.30,343.73 171.80,343.59 172.30,343.42 172.80,343.24 173.30,343.03 173.80,342.80 174.30,342.55 174.80,342.28 175.30,341.98 175.80,341.67 176.30,341.34 176.80,341.00 177.30,340.64 177.80,340.28 178.30,339.91 178.80,339.55 179.30,339.20 179.80,338.86 180.30,338.55 180.80,338.25 181.30,337.99 181.80,337.77 182.30,337.58 182.80,337.44 183.30,337.35 183.80,337.30 184.30,337.31 184.80,337.36 185.30,337.47 185.80,337.62 186.30,337.81 186.80,338.04 187.30,338.31 187.80,338.61 188.30,338.93 188.80,339.27 189.30,339.63 189.80,339.99 190.30,340.35 190.80,340.71 191.30,341.07 191.80,341.41 192.30,341.73 192.80,342.04 193.30,342.33 193.80,342.60 194.30,342.85 194.80,343.08 195.30,343.28 195.80,343.46 196.30,343.62 196.80,343.76 197.30,343.88 197.80,343.99 198.30,344.08 198.80,344.16 199.30,344.22 199.80,344.28 200.30,344.32 200.80,344.36 201.30,344.39 201.80,344.41 202.30,344.43 202.80,344.45 203.30,344.46 203.80,344.47 204.30,344.48 204.80,344.48 205.30,344.49 205.80,344.49 206.30,344.49 206.80,344.49 207.30,344.50 207.80,344.50 208.30,344.50 208.80,344.50" fill="none" stroke="#000" stroke-width="1.15" stroke-linejoin="round"/>
<polyline points="167.30,344.50 167.80,344.50 168.30,344.50 168.80,344.50 169.30,344.50 169.80,344.50 170.30,344.50 170.80,344.50 171.30,344.49 171.80,344.49 172.30,344.49 172.80,344.48 173.30,344.48 173.80,344.47 174.30,344.47 174.80,344.46 175.30,344.45 175.80,344.43 176.30,344.41 176.80,344.39 177.30,344.37 177.80,344.34 178.30,344.30 178.80,344.26 179.30,344.21 179.80,344.15 180.30,344.08 180.80,344.01 181.30,343.92 181.80,343.83 182.30,343.72 182.80,343.61 183.30,343.48 183.80,343.35 184.30,343.20 184.80,343.05 185.30,342.89 185.80,342.73 186.30,342.57 186.80,342.40 187.30,342.23 187.80,342.07 188.30,341.92 188.80,341.77 189.30,341.64 189.80,341.52 190.30,341.41 190.80,341.33 191.30,341.27 191.80,341.22 192.30,341.20 192.80,341.20 193.30,341.23 193.80,341.28 194.30,341.35 194.80,341.43 195.30,341.54 195.80,341.66 196.30,341.80 196.80,341.95 197.30,342.10 197.80,342.27 198.30,342.43 198.80,342.60 199.30,342.76 199.80,342.93 200.30,343.08 200.80,343.23 201.30,343.37 201.80,343.51 202.30,343.63 202.80,343.74 203.30,343.85 203.80,343.94 204.30,344.02 204.80,344.10 205.30,344.16 205.80,344.22 206.30,344.27 206.80,344.31 207.30,344.34 207.80,344.37 208.30,344.40 208.80,344.42 209.30,344.43 209.80,344.45 210.30,344.46 210.80,344.47 211.30,344.48 211.80,344.48 212.30,344.49 212.80,344.49 213.30,344.49 213.80,344.49 214.30,344.50 214.80,344.50 215.30,344.50 215.80,344.50 216.30,344.50 216.80,344.50 217.30,344.50" fill="none" stroke="#000" stroke-width="1.15" stroke-linejoin="round"/>
<polyline points="43.50,344.50 44.40,344.50 45.31,344.50 46.21,344.50 47.11,344.50 48.01,344.50 48.92,344.50 49.82,344.50 50.72,344.50 51.63,344.50 52.53,344.50 53.43,344.50 54.34,344.50 55.24,344.50 56.14,344.50 57.04,344.50 57.95,344.50 58.85,344.50 59.75,344.50 60.66,344.50 61.56,344.50 62.46,344.50 63.37,344.50 64.27,344.50 65.17,344.50 66.07,344.50 66.98,344.50 67.88,344.50 68.78,344.50 69.69,344.50 70.59,344.50 71.49,344.50 72.40,344.50 73.30,344.50 74.20,344.50 75.10,344.50 76.01,344.50 76.91,344.50 77.81,344.50 78.72,344.50 79.62,344.50 80.52,344.50 81.43,344.50 82.33,344.50 83.23,344.50 84.13,344.50 85.04,344.50 85.94,344.50 86.84,344.50 87.75,344.50 88.65,344.50 89.55,344.50 90.46,344.50 91.36,344.50 92.26,344.50 93.16,344.50 94.07,344.50 94.97,344.50 95.87,344.50 96.78,344.50 97.68,344.50 98.58,344.50 99.49,344.50 100.39,344.50 101.29,344.50 102.19,344.50 103.10,344.50 104.00,344.50 105.00,344.40 106.00,344.30 107.00,343.87 108.00,343.43 109.00,343.00 110.00,342.33 111.00,341.67 112.00,341.00 113.00,340.25 114.00,339.50 115.25,339.00 116.50,338.50 118.00,336.00 119.50,331.00 121.00,322.00 122.60,310.00 124.00,300.00 125.30,290.00 125.80,280.00 126.60,270.00 127.70,260.00 128.60,250.00 129.80,243.00 130.30,235.80 131.20,229.60 131.90,225.40 132.90,223.90 134.00,222.30 134.70,218.70 135.50,223.31 136.50,225.01 137.60,229.26 138.60,231.04 139.60,233.71 140.70,235.96 141.70,239.33 142.50,245.12 143.30,252.23 143.80,255.53 145.20,264.27 146.30,269.65 147.40,274.26 149.00,282.56 150.50,287.35 152.00,293.18 153.20,296.87 154.10,300.34 155.00,303.28 156.50,308.21 158.00,310.38 159.00,312.63 160.00,316.05 161.70,319.21 162.30,320.04 163.50,322.54 165.20,326.15 166.10,328.19 167.00,329.39 168.70,332.12 169.60,332.28 170.50,333.25 171.60,333.70 172.70,334.69 173.85,335.37 175.00,336.10 176.15,338.40 177.30,339.39 179.00,338.61 180.00,338.12 181.00,337.17 182.00,336.91 183.00,336.92 184.00,336.88 185.00,338.48 186.50,337.72 188.00,339.12 189.00,338.55 190.00,339.79 191.00,340.07 192.00,339.22 193.30,340.23 194.60,341.84 195.80,341.61 197.00,342.56 198.10,342.14 199.20,342.06 200.35,342.88 201.50,343.00 202.65,343.30 203.80,343.60 204.87,343.80 205.93,344.00 207.00,344.20 208.00,344.30 209.00,344.40 210.00,344.50 210.91,344.50 211.82,344.50 212.74,344.50 213.65,344.50 214.56,344.50 215.47,344.50 216.38,344.50 217.29,344.50 218.21,344.50 219.12,344.50 220.03,344.50 220.94,344.50 221.85,344.50 222.76,344.50 223.68,344.50 224.59,344.50 225.50,344.50 226.41,344.50 227.32,344.50 228.24,344.50 229.15,344.50 230.06,344.50 230.97,344.50 231.88,344.50 232.79,344.50 233.71,344.50 234.62,344.50 235.53,344.50 236.44,344.50 237.35,344.50 238.26,344.50 239.18,344.50 240.09,344.50 241.00,344.50" fill="none" stroke="#000" stroke-width="1.3" stroke-linejoin="round"/>
<line x1="310.60" y1="215.00" x2="508.50" y2="215.00" stroke="#444" stroke-width="1.5"/>
<line x1="508.50" y1="215.00" x2="508.50" y2="345.40" stroke="#444" stroke-width="1.6"/>
<line x1="310.60" y1="214.00" x2="310.60" y2="345.40" stroke="#000" stroke-width="1.6"/>
<line x1="310.60" y1="345.40" x2="508.50" y2="345.40" stroke="#000" stroke-width="1.6"/>
<line x1="305.80" y1="345.40" x2="310.60" y2="345.40" stroke="#000" stroke-width="1.1"/>
<text x="296.91" y="349.15" font-family="Liberation Sans" font-size="8.8" fill="#222" stroke="#222" stroke-width="0.18">0</text>
<line x1="305.80" y1="302.55" x2="310.60" y2="302.55" stroke="#000" stroke-width="1.1"/>
<text x="292.01" y="306.30" font-family="Liberation Sans" font-size="8.8" fill="#222" stroke="#222" stroke-width="0.18">00</text>
<line x1="305.80" y1="259.70" x2="310.60" y2="259.70" stroke="#000" stroke-width="1.1"/>
<text x="292.01" y="263.45" font-family="Liberation Sans" font-size="8.8" fill="#222" stroke="#222" stroke-width="0.18">00</text>
<line x1="305.80" y1="216.85" x2="310.60" y2="216.85" stroke="#000" stroke-width="1.1"/>
<text x="287.12" y="220.60" font-family="Liberation Sans" font-size="8.8" fill="#222" stroke="#222" stroke-width="0.18">300</text>
<line x1="308.40" y1="334.69" x2="310.60" y2="334.69" stroke="#000" stroke-width="1.1"/>
<line x1="308.40" y1="323.97" x2="310.60" y2="323.97" stroke="#000" stroke-width="1.1"/>
<line x1="308.40" y1="313.26" x2="310.60" y2="313.26" stroke="#000" stroke-width="1.1"/>
<line x1="308.40" y1="291.84" x2="310.60" y2="291.84" stroke="#000" stroke-width="1.1"/>
<line x1="308.40" y1="281.12" x2="310.60" y2="281.12" stroke="#000" stroke-width="1.1"/>
<line x1="308.40" y1="270.41" x2="310.60" y2="270.41" stroke="#000" stroke-width="1.1"/>
<line x1="308.40" y1="248.99" x2="310.60" y2="248.99" stroke="#000" stroke-width="1.1"/>
<line x1="308.40" y1="238.27" x2="310.60" y2="238.27" stroke="#000" stroke-width="1.1"/>
<line x1="308.40" y1="227.56" x2="310.60" y2="227.56" stroke="#000" stroke-width="1.1"/>
<line x1="310.60" y1="345.40" x2="310.60" y2="349.90" stroke="#000" stroke-width="1.1"/>
<line x1="325.49" y1="345.40" x2="325.49" y2="347.90" stroke="#000" stroke-width="1.1"/>
<line x1="334.21" y1="345.40" x2="334.21" y2="347.90" stroke="#000" stroke-width="1.1"/>
<line x1="340.39" y1="345.40" x2="340.39" y2="347.90" stroke="#000" stroke-width="1.1"/>
<line x1="345.18" y1="345.40" x2="345.18" y2="349.20" stroke="#000" stroke-width="1.1"/>
<line x1="349.10" y1="345.40" x2="349.10" y2="347.90" stroke="#000" stroke-width="1.1"/>
<line x1="352.41" y1="345.40" x2="352.41" y2="347.90" stroke="#000" stroke-width="1.1"/>
<line x1="355.28" y1="345.40" x2="355.28" y2="347.90" stroke="#000" stroke-width="1.1"/>
<line x1="357.81" y1="345.40" x2="357.81" y2="347.90" stroke="#000" stroke-width="1.1"/>
<path d="M306.47,362.60 L307.57,362.60 L307.57,356.59 L306.73,356.59 C306.56,357.31 306.05,357.56 304.96,357.64 L304.96,358.32 L306.47,358.32 Z" fill="#222"/>
<text x="308.88" y="362.60" font-family="Liberation Sans" font-size="8.4" fill="#222" stroke="#222" stroke-width="0.18">0</text>
<text x="313.55" y="358.40" font-family="Liberation Sans" font-size="6.2" fill="#222" stroke="#222" stroke-width="0.18">0</text>
<line x1="360.08" y1="345.40" x2="360.08" y2="349.90" stroke="#000" stroke-width="1.1"/>
<line x1="374.97" y1="345.40" x2="374.97" y2="347.90" stroke="#000" stroke-width="1.1"/>
<line x1="383.68" y1="345.40" x2="383.68" y2="347.90" stroke="#000" stroke-width="1.1"/>
<line x1="389.86" y1="345.40" x2="389.86" y2="347.90" stroke="#000" stroke-width="1.1"/>
<line x1="394.66" y1="345.40" x2="394.66" y2="349.20" stroke="#000" stroke-width="1.1"/>
<line x1="398.57" y1="345.40" x2="398.57" y2="347.90" stroke="#000" stroke-width="1.1"/>
<line x1="401.89" y1="345.40" x2="401.89" y2="347.90" stroke="#000" stroke-width="1.1"/>
<line x1="404.76" y1="345.40" x2="404.76" y2="347.90" stroke="#000" stroke-width="1.1"/>
<line x1="407.29" y1="345.40" x2="407.29" y2="347.90" stroke="#000" stroke-width="1.1"/>
<path d="M355.95,362.60 L357.04,362.60 L357.04,356.59 L356.20,356.59 C356.03,357.31 355.53,357.56 354.44,357.64 L354.44,358.32 L355.95,358.32 Z" fill="#222"/>
<text x="358.35" y="362.60" font-family="Liberation Sans" font-size="8.4" fill="#222" stroke="#222" stroke-width="0.18">0</text>
<path d="M364.70,358.40 L365.50,358.40 L365.50,353.96 L364.88,353.96 C364.76,354.49 364.39,354.68 363.58,354.74 L363.58,355.24 L364.70,355.24 Z" fill="#222"/>
<line x1="409.55" y1="345.40" x2="409.55" y2="349.90" stroke="#000" stroke-width="1.1"/>
<line x1="424.44" y1="345.40" x2="424.44" y2="347.90" stroke="#000" stroke-width="1.1"/>
<line x1="433.16" y1="345.40" x2="433.16" y2="347.90" stroke="#000" stroke-width="1.1"/>
<line x1="439.34" y1="345.40" x2="439.34" y2="347.90" stroke="#000" stroke-width="1.1"/>
<line x1="444.13" y1="345.40" x2="444.13" y2="349.20" stroke="#000" stroke-width="1.1"/>
<line x1="448.05" y1="345.40" x2="448.05" y2="347.90" stroke="#000" stroke-width="1.1"/>
<line x1="451.36" y1="345.40" x2="451.36" y2="347.90" stroke="#000" stroke-width="1.1"/>
<line x1="454.23" y1="345.40" x2="454.23" y2="347.90" stroke="#000" stroke-width="1.1"/>
<line x1="456.76" y1="345.40" x2="456.76" y2="347.90" stroke="#000" stroke-width="1.1"/>
<path d="M405.42,362.60 L406.52,362.60 L406.52,356.59 L405.68,356.59 C405.51,357.31 405.00,357.56 403.91,357.64 L403.91,358.32 L405.42,358.32 Z" fill="#222"/>
<text x="407.83" y="362.60" font-family="Liberation Sans" font-size="8.4" fill="#222" stroke="#222" stroke-width="0.18">0</text>
<text x="412.50" y="358.40" font-family="Liberation Sans" font-size="6.2" fill="#222" stroke="#222" stroke-width="0.18">2</text>
<line x1="459.02" y1="345.40" x2="459.02" y2="349.90" stroke="#000" stroke-width="1.1"/>
<line x1="473.92" y1="345.40" x2="473.92" y2="347.90" stroke="#000" stroke-width="1.1"/>
<line x1="482.63" y1="345.40" x2="482.63" y2="347.90" stroke="#000" stroke-width="1.1"/>
<line x1="488.81" y1="345.40" x2="488.81" y2="347.90" stroke="#000" stroke-width="1.1"/>
<line x1="493.61" y1="345.40" x2="493.61" y2="349.20" stroke="#000" stroke-width="1.1"/>
<line x1="497.52" y1="345.40" x2="497.52" y2="347.90" stroke="#000" stroke-width="1.1"/>
<line x1="500.84" y1="345.40" x2="500.84" y2="347.90" stroke="#000" stroke-width="1.1"/>
<line x1="503.71" y1="345.40" x2="503.71" y2="347.90" stroke="#000" stroke-width="1.1"/>
<line x1="506.24" y1="345.40" x2="506.24" y2="347.90" stroke="#000" stroke-width="1.1"/>
<path d="M454.90,362.60 L455.99,362.60 L455.99,356.59 L455.15,356.59 C454.98,357.31 454.48,357.56 453.39,357.64 L453.39,358.32 L454.90,358.32 Z" fill="#222"/>
<text x="457.30" y="362.60" font-family="Liberation Sans" font-size="8.4" fill="#222" stroke="#222" stroke-width="0.18">0</text>
<text x="461.97" y="358.40" font-family="Liberation Sans" font-size="6.2" fill="#222" stroke="#222" stroke-width="0.18">3</text>
<line x1="508.50" y1="345.40" x2="508.50" y2="349.90" stroke="#000" stroke-width="1.1"/>
<path d="M504.37,362.60 L505.47,362.60 L505.47,356.59 L504.63,356.59 C504.46,357.31 503.95,357.56 502.86,357.64 L502.86,358.32 L504.37,358.32 Z" fill="#222"/>
<text x="506.78" y="362.60" font-family="Liberation Sans" font-size="8.4" fill="#222" stroke="#222" stroke-width="0.18">0</text>
<text x="511.45" y="358.40" font-family="Liberation Sans" font-size="6.2" fill="#222" stroke="#222" stroke-width="0.18">4</text>
<text transform="translate(379.20,201.50) scale(1,1.0)" font-family="Liberation Serif" font-size="12.9" text-anchor="start" stroke="#000" stroke-width="0.12" >fes I-siRNA</text>
<text transform="translate(352.50,382.00) scale(1,1.0)" font-family="Liberation Serif" font-size="12.9" text-anchor="start" stroke="#000" stroke-width="0.12" >Fluorescence Intensity</text>
<text transform="translate(284.5,336) rotate(-90) scale(1,1.0)" font-family="Liberation Serif" font-size="13.05" stroke="#000" stroke-width="0.12">Relative cell no.</text>
<text x="401.25" y="222.30" font-family="Liberation Sans" font-size="6.3" fill="#111" stroke="#111" stroke-width="0.18">5</text>
<text x="410.45" y="222.30" font-family="Liberation Sans" font-size="6.3" fill="#111" stroke="#111" stroke-width="0.18">4</text>
<text x="421.45" y="222.30" font-family="Liberation Sans" font-size="6.3" fill="#111" stroke="#111" stroke-width="0.18">3</text>
<text x="434.65" y="222.30" font-family="Liberation Sans" font-size="6.3" fill="#111" stroke="#111" stroke-width="0.18">2</text>
<path d="M449.55,222.30 L450.37,222.30 L450.37,217.79 L449.74,217.79 C449.61,218.33 449.23,218.52 448.42,218.58 L448.42,219.09 L449.55,219.09 Z" fill="#111"/>
<text x="463.25" y="222.30" font-family="Liberation Sans" font-size="6.3" fill="#111" stroke="#111" stroke-width="0.18">0</text>
<polyline points="375.10,345.39 375.60,345.39 376.10,345.39 376.60,345.38 377.10,345.38 377.60,345.37 378.10,345.36 378.60,345.35 379.10,345.33 379.60,345.31 380.10,345.28 380.60,345.25 381.10,345.21 381.60,345.16 382.10,345.09 382.60,345.01 383.10,344.92 383.60,344.80 384.10,344.66 384.60,344.49 385.10,344.29 385.60,344.05 386.10,343.77 386.60,343.44 387.10,343.05 387.60,342.60 388.10,342.08 388.60,341.49 389.10,340.81 389.60,340.04 390.10,339.18 390.60,338.22 391.10,337.14 391.60,335.96 392.10,334.65 392.60,333.24 393.10,331.70 393.60,330.05 394.10,328.29 394.60,326.42 395.10,324.46 395.60,322.41 396.10,320.28 396.60,318.11 397.10,315.89 397.60,313.66 398.10,311.43 398.60,309.23 399.10,307.08 399.60,305.01 400.10,303.05 400.60,301.22 401.10,299.54 401.60,298.04 402.10,296.75 402.60,295.67 403.10,294.82 403.60,294.22 404.10,293.88 404.60,293.81 405.10,293.99 405.60,294.43 406.10,295.13 406.60,296.07 407.10,297.24 407.60,298.62 408.10,300.19 408.60,301.93 409.10,303.82 409.60,305.83 410.10,307.93 410.60,310.10 411.10,312.32 411.60,314.55 412.10,316.78 412.60,318.98 413.10,321.14 413.60,323.23 414.10,325.25 414.60,327.18 415.10,329.00 415.60,330.72 416.10,332.33 416.60,333.82 417.10,335.19 417.60,336.44 418.10,337.58 418.60,338.61 419.10,339.54 419.60,340.36 420.10,341.09 420.60,341.74 421.10,342.30 421.60,342.79 422.10,343.21 422.60,343.58 423.10,343.89 423.60,344.15 424.10,344.38 424.60,344.56 425.10,344.72 425.60,344.85 426.10,344.96 426.60,345.05 427.10,345.12 427.60,345.18 428.10,345.22 428.60,345.26 429.10,345.29 429.60,345.32 430.10,345.34 430.60,345.35 431.10,345.36 431.60,345.37 432.10,345.38 432.60,345.38 433.10,345.39 433.60,345.39" fill="none" stroke="#000" stroke-width="1.15" stroke-linejoin="round"/>
<polyline points="384.70,345.39 385.20,345.38 385.70,345.38 386.20,345.37 386.70,345.36 387.20,345.35 387.70,345.34 388.20,345.32 388.70,345.29 389.20,345.26 389.70,345.22 390.20,345.17 390.70,345.11 391.20,345.03 391.70,344.94 392.20,344.82 392.70,344.68 393.20,344.51 393.70,344.30 394.20,344.05 394.70,343.75 395.20,343.39 395.70,342.97 396.20,342.47 396.70,341.89 397.20,341.22 397.70,340.45 398.20,339.56 398.70,338.55 399.20,337.41 399.70,336.12 400.20,334.68 400.70,333.08 401.20,331.31 401.70,329.36 402.20,327.25 402.70,324.96 403.20,322.49 403.70,319.86 404.20,317.08 404.70,314.15 405.20,311.09 405.70,307.92 406.20,304.67 406.70,301.36 407.20,298.03 407.70,294.70 408.20,291.42 408.70,288.22 409.20,285.13 409.70,282.20 410.20,279.47 410.70,276.97 411.20,274.73 411.70,272.80 412.20,271.18 412.70,269.92 413.20,269.03 413.70,268.53 414.20,268.41 414.70,268.68 415.20,269.34 415.70,270.39 416.20,271.79 416.70,273.53 417.20,275.59 417.70,277.94 418.20,280.54 418.70,283.35 419.20,286.35 419.70,289.49 420.20,292.73 420.70,296.03 421.20,299.36 421.70,302.69 422.20,305.98 422.70,309.20 423.20,312.32 423.70,315.33 424.20,318.21 424.70,320.93 425.20,323.50 425.70,325.89 426.20,328.12 426.70,330.16 427.20,332.03 427.70,333.74 428.20,335.27 428.70,336.65 429.20,337.88 429.70,338.97 430.20,339.93 430.70,340.77 431.20,341.50 431.70,342.14 432.20,342.68 432.70,343.14 433.20,343.54 433.70,343.87 434.20,344.15 434.70,344.39 435.20,344.58 435.70,344.74 436.20,344.87 436.70,344.98 437.20,345.07 437.70,345.14 438.20,345.19 438.70,345.24 439.20,345.28 439.70,345.30 440.20,345.33 440.70,345.34 441.20,345.36 441.70,345.37 442.20,345.38 442.70,345.38 443.20,345.39" fill="none" stroke="#000" stroke-width="1.15" stroke-linejoin="round"/>
<polyline points="396.10,345.39 396.60,345.39 397.10,345.38 397.60,345.38 398.10,345.37 398.60,345.36 399.10,345.35 399.60,345.33 400.10,345.31 400.60,345.28 401.10,345.25 401.60,345.20 402.10,345.15 402.60,345.08 403.10,345.00 403.60,344.90 404.10,344.78 404.60,344.63 405.10,344.45 405.60,344.23 406.10,343.97 406.60,343.66 407.10,343.30 407.60,342.87 408.10,342.37 408.60,341.79 409.10,341.12 409.60,340.35 410.10,339.48 410.60,338.49 411.10,337.37 411.60,336.13 412.10,334.74 412.60,333.21 413.10,331.53 413.60,329.70 414.10,327.72 414.60,325.59 415.10,323.31 415.60,320.90 416.10,318.37 416.60,315.72 417.10,312.98 417.60,310.17 418.10,307.31 418.60,304.43 419.10,301.55 419.60,298.71 420.10,295.94 420.60,293.27 421.10,290.74 421.60,288.37 422.10,286.21 422.60,284.28 423.10,282.60 423.60,281.21 424.10,280.12 424.60,279.35 425.10,278.91 425.60,278.81 426.10,279.04 426.60,279.62 427.10,280.52 427.60,281.73 428.10,283.24 428.60,285.02 429.10,287.05 429.60,289.30 430.10,291.73 430.60,294.32 431.10,297.04 431.60,299.84 432.10,302.70 432.60,305.58 433.10,308.46 433.60,311.30 434.10,314.09 434.60,316.79 435.10,319.39 435.60,321.88 436.10,324.24 436.60,326.46 437.10,328.53 437.60,330.45 438.10,332.22 438.60,333.84 439.10,335.31 439.60,336.64 440.10,337.83 440.60,338.90 441.10,339.84 441.60,340.67 442.10,341.40 442.60,342.03 443.10,342.58 443.60,343.05 444.10,343.45 444.60,343.79 445.10,344.08 445.60,344.32 446.10,344.52 446.60,344.69 447.10,344.83 447.60,344.94 448.10,345.04 448.60,345.11 449.10,345.17 449.60,345.22 450.10,345.26 450.60,345.29 451.10,345.32 451.60,345.34 452.10,345.35 452.60,345.36 453.10,345.37 453.60,345.38 454.10,345.38 454.60,345.39" fill="none" stroke="#000" stroke-width="1.15" stroke-linejoin="round"/>
<polyline points="408.40,345.39 408.90,345.39 409.40,345.38 409.90,345.38 410.40,345.37 410.90,345.36 411.40,345.35 411.90,345.33 412.40,345.31 412.90,345.29 413.40,345.26 413.90,345.22 414.40,345.17 414.90,345.10 415.40,345.03 415.90,344.93 416.40,344.82 416.90,344.68 417.40,344.51 417.90,344.30 418.40,344.06 418.90,343.77 419.40,343.43 419.90,343.02 420.40,342.55 420.90,342.01 421.40,341.38 421.90,340.66 422.40,339.84 422.90,338.91 423.40,337.87 423.90,336.70 424.40,335.40 424.90,333.96 425.40,332.38 425.90,330.67 426.40,328.81 426.90,326.81 427.40,324.67 427.90,322.41 428.40,320.03 428.90,317.55 429.40,314.98 429.90,312.34 430.40,309.66 430.90,306.95 431.40,304.25 431.90,301.59 432.40,298.99 432.90,296.48 433.40,294.10 433.90,291.88 434.40,289.85 434.90,288.04 435.40,286.47 435.90,285.16 436.40,284.14 436.90,283.41 437.40,283.00 437.90,282.91 438.40,283.13 438.90,283.67 439.40,284.51 439.90,285.65 440.40,287.07 440.90,288.74 441.40,290.64 441.90,292.75 442.40,295.04 442.90,297.47 443.40,300.02 443.90,302.65 444.40,305.33 444.90,308.03 445.40,310.73 445.90,313.40 446.40,316.02 446.90,318.55 447.40,321.00 447.90,323.33 448.40,325.54 448.90,327.62 449.40,329.57 449.90,331.37 450.40,333.03 450.90,334.55 451.40,335.93 451.90,337.18 452.40,338.30 452.90,339.30 453.40,340.18 453.90,340.96 454.40,341.64 454.90,342.24 455.40,342.75 455.90,343.19 456.40,343.57 456.90,343.89 457.40,344.16 457.90,344.39 458.40,344.58 458.90,344.73 459.40,344.87 459.90,344.97 460.40,345.06 460.90,345.13 461.40,345.19 461.90,345.23 462.40,345.27 462.90,345.30 463.40,345.32 463.90,345.34 464.40,345.35 464.90,345.37 465.40,345.37 465.90,345.38 466.40,345.39 466.90,345.39" fill="none" stroke="#000" stroke-width="1.15" stroke-linejoin="round"/>
<polyline points="422.80,345.40 423.30,345.40 423.80,345.40 424.30,345.39 424.80,345.39 425.30,345.39 425.80,345.39 426.30,345.38 426.80,345.38 427.30,345.37 427.80,345.36 428.30,345.35 428.80,345.34 429.30,345.32 429.80,345.30 430.30,345.28 430.80,345.25 431.30,345.21 431.80,345.16 432.30,345.11 432.80,345.05 433.30,344.97 433.80,344.88 434.30,344.77 434.80,344.65 435.30,344.51 435.80,344.34 436.30,344.15 436.80,343.93 437.30,343.69 437.80,343.41 438.30,343.10 438.80,342.76 439.30,342.38 439.80,341.96 440.30,341.51 440.80,341.02 441.30,340.49 441.80,339.93 442.30,339.33 442.80,338.70 443.30,338.05 443.80,337.37 444.30,336.67 444.80,335.96 445.30,335.25 445.80,334.54 446.30,333.83 446.80,333.15 447.30,332.49 447.80,331.86 448.30,331.27 448.80,330.74 449.30,330.26 449.80,329.84 450.30,329.50 450.80,329.23 451.30,329.04 451.80,328.93 452.30,328.90 452.80,328.96 453.30,329.10 453.80,329.33 454.30,329.63 454.80,330.00 455.30,330.44 455.80,330.94 456.30,331.50 456.80,332.10 457.30,332.75 457.80,333.42 458.30,334.11 458.80,334.82 459.30,335.54 459.80,336.25 460.30,336.95 460.80,337.64 461.30,338.31 461.80,338.96 462.30,339.57 462.80,340.16 463.30,340.71 463.80,341.22 464.30,341.70 464.80,342.13 465.30,342.54 465.80,342.90 466.30,343.23 466.80,343.53 467.30,343.79 467.80,344.02 468.30,344.23 468.80,344.41 469.30,344.57 469.80,344.70 470.30,344.82 470.80,344.92 471.30,345.00 471.80,345.07 472.30,345.13 472.80,345.18 473.30,345.22 473.80,345.26 474.30,345.29 474.80,345.31 475.30,345.33 475.80,345.34 476.30,345.36 476.80,345.37 477.30,345.37 477.80,345.38 478.30,345.38 478.80,345.39 479.30,345.39 479.80,345.39 480.30,345.39 480.80,345.40 481.30,345.40" fill="none" stroke="#000" stroke-width="1.15" stroke-linejoin="round"/>
<polyline points="435.90,345.40 436.40,345.40 436.90,345.40 437.40,345.40 437.90,345.39 438.40,345.39 438.90,345.39 439.40,345.39 439.90,345.38 440.40,345.38 440.90,345.37 441.40,345.36 441.90,345.35 442.40,345.34 442.90,345.33 443.40,345.31 443.90,345.28 444.40,345.26 444.90,345.22 445.40,345.18 445.90,345.13 446.40,345.07 446.90,345.01 447.40,344.92 447.90,344.83 448.40,344.72 448.90,344.60 449.40,344.45 449.90,344.29 450.40,344.10 450.90,343.89 451.40,343.66 451.90,343.40 452.40,343.11 452.90,342.80 453.40,342.45 453.90,342.08 454.40,341.68 454.90,341.25 455.40,340.80 455.90,340.33 456.40,339.83 456.90,339.32 457.40,338.79 457.90,338.25 458.40,337.71 458.90,337.17 459.40,336.64 459.90,336.12 460.40,335.62 460.90,335.14 461.40,334.70 461.90,334.29 462.40,333.93 462.90,333.61 463.40,333.35 463.90,333.15 464.40,333.00 464.90,332.92 465.40,332.90 465.90,332.95 466.40,333.05 466.90,333.22 467.40,333.45 467.90,333.73 468.40,334.07 468.90,334.45 469.40,334.87 469.90,335.33 470.40,335.81 470.90,336.32 471.40,336.85 471.90,337.39 472.40,337.93 472.90,338.47 473.40,339.00 473.90,339.52 474.40,340.03 474.90,340.52 475.40,340.99 475.90,341.43 476.40,341.84 476.90,342.23 477.40,342.59 477.90,342.93 478.40,343.23 478.90,343.51 479.40,343.76 479.90,343.98 480.40,344.18 480.90,344.36 481.40,344.51 481.90,344.65 482.40,344.77 482.90,344.87 483.40,344.96 483.90,345.03 484.40,345.10 484.90,345.15 485.40,345.20 485.90,345.24 486.40,345.27 486.90,345.29 487.40,345.31 487.90,345.33 488.40,345.35 488.90,345.36 489.40,345.37 489.90,345.37 490.40,345.38 490.90,345.38 491.40,345.39 491.90,345.39 492.40,345.39 492.90,345.39 493.40,345.40 493.90,345.40 494.40,345.40" fill="none" stroke="#000" stroke-width="1.15" stroke-linejoin="round"/>
<polyline points="310.60,345.40 311.40,345.40 312.20,345.40 313.01,345.39 313.81,345.39 314.61,345.39 315.41,345.39 316.22,345.38 317.02,345.38 317.82,345.38 318.62,345.38 319.43,345.37 320.23,345.37 321.03,345.37 321.83,345.37 322.64,345.36 323.44,345.36 324.24,345.36 325.04,345.36 325.85,345.35 326.65,345.35 327.45,345.35 328.25,345.35 329.05,345.35 329.86,345.34 330.66,345.34 331.46,345.34 332.26,345.34 333.07,345.33 333.87,345.33 334.67,345.33 335.47,345.33 336.28,345.32 337.08,345.32 337.88,345.32 338.68,345.32 339.49,345.31 340.29,345.31 341.09,345.31 341.89,345.31 342.70,345.30 343.50,345.30 344.30,345.30 345.10,345.30 345.90,345.30 346.71,345.29 347.51,345.29 348.31,345.29 349.11,345.29 349.92,345.28 350.72,345.28 351.52,345.28 352.32,345.28 353.13,345.27 353.93,345.27 354.73,345.27 355.53,345.27 356.34,345.26 357.14,345.26 357.94,345.26 358.74,345.26 359.55,345.25 360.35,345.25 361.15,345.25 361.95,345.25 362.75,345.25 363.56,345.24 364.36,345.24 365.16,345.24 365.96,345.24 366.77,345.23 367.57,345.23 368.37,345.23 369.17,345.23 369.98,345.22 370.78,345.22 371.58,345.22 372.38,345.22 373.19,345.21 373.99,345.21 374.79,345.21 375.59,345.21 376.40,345.20 377.20,345.20 378.00,345.20 379.00,344.85 380.00,344.50 380.90,343.54 381.80,342.83 382.70,341.97 383.60,341.20 384.43,339.13 385.27,337.47 386.10,335.71 387.05,333.90 388.00,332.53 389.20,325.56 390.15,324.84 391.10,323.26 392.30,312.15 393.60,299.92 394.50,292.91 395.40,285.13 396.30,276.52 397.20,268.93 398.20,267.58 399.50,254.65 400.80,245.47 402.10,240.97 403.40,239.69 404.70,231.19 405.60,235.34 406.60,236.45 407.90,230.01 409.20,224.22 410.50,228.28 411.50,244.11 412.40,232.28 413.30,229.52 414.40,233.94 415.70,229.52 417.00,234.58 418.30,233.04 419.50,240.98 420.80,244.16 422.10,242.48 423.40,247.93 424.70,246.47 425.70,253.20 426.70,238.26 427.30,255.71 428.30,259.23 429.20,258.31 430.10,261.54 430.95,264.53 431.80,266.80 433.30,268.95 434.20,273.03 435.10,273.87 436.00,276.96 437.00,279.99 437.90,281.68 439.00,285.68 440.50,293.63 441.30,297.99 442.10,301.79 443.50,310.18 444.30,314.74 445.10,318.27 446.50,322.26 447.50,325.52 448.35,325.21 449.20,326.08 450.20,328.34 451.20,326.89 452.50,329.15 453.35,328.88 454.20,329.41 455.50,327.42 456.35,328.19 457.20,328.83 458.50,325.65 459.40,326.67 460.30,326.35 461.30,329.24 462.30,330.12 463.50,330.00 464.40,330.61 465.30,331.72 466.15,331.97 467.00,333.11 468.30,334.67 469.15,335.88 470.00,336.89 471.20,338.46 472.40,339.50 473.27,340.11 474.13,340.67 475.00,341.60 476.20,342.07 477.40,342.89 478.27,343.17 479.13,343.72 480.00,344.00 480.83,344.27 481.67,344.53 482.50,344.80 483.31,344.81 484.12,344.82 484.94,344.84 485.75,344.85 486.56,344.86 487.38,344.88 488.19,344.89 489.00,344.90 489.81,344.91 490.62,344.93 491.44,344.94 492.25,344.95 493.06,344.96 493.88,344.98 494.69,344.99 495.50,345.00 496.31,345.01 497.12,345.02 497.94,345.04 498.75,345.05 499.56,345.06 500.38,345.07 501.19,345.09 502.00,345.10 502.81,345.11 503.62,345.12 504.44,345.14 505.25,345.15 506.06,345.16 506.88,345.18 507.69,345.19 508.50,345.20" fill="none" stroke="#000" stroke-width="1.25" stroke-linejoin="round"/>
</svg>
</body></html>
